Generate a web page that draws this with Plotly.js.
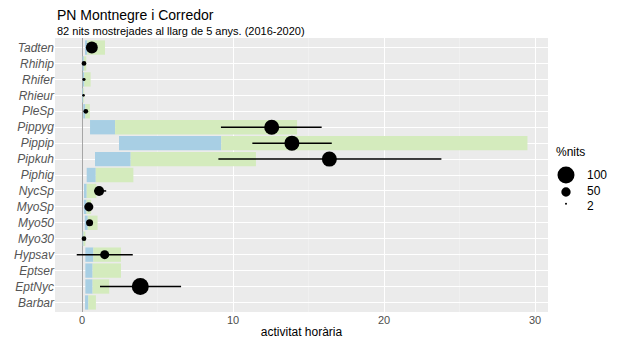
<!DOCTYPE html>
<html>
<head>
<meta charset="utf-8">
<script src="https://cdn.plot.ly/plotly-3.0.1.min.js"></script>
<style>html,body{margin:0;padding:0;background:#fff;}#chart{width:621px;height:343px;}</style>
</head>
<body>
<div id="chart"></div>
<script>
// ---- data ----
const species    = ['Tadten','Rhihip','Rhifer','Rhieur','PleSp','Pippyg','Pippip','Pipkuh','Piphig','NycSp','MyoSp','Myo50','Myo30','Hypsav','Eptser','EptNyc','Barbar'];
const blueStart  = [0.20, 0.03, 0.05, 0.02, 0.08, 0.53, 2.45, 0.86, 0.31, 0.13, 0.12, 0.18, 0.04, 0.22, 0.22, 0.22, 0.20];
const blueEnd    = [0.35, 0.12, 0.15, 0.08, 0.22, 2.19, 9.22, 3.22, 0.91, 0.31, 0.30, 0.38, 0.10, 0.75, 0.70, 0.70, 0.42];
const greenEnd   = [1.52, 0.28, 0.57, 0.14, 0.52, 14.24, 29.5, 11.52, 3.40, 0.95, 0.60, 1.03, 0.22, 2.58, 2.58, 1.80, 0.92];
const meanAct    = [0.65, 0.13, 0.13, 0.10, 0.25, 12.56, 13.9, 16.38, null, 1.13, 0.45, 0.50, 0.13, 1.50, null, 3.86, null];
const errLow     = [0.50, 0.10, 0.04, 0.08, 0.15, 9.20, 11.28, 9.03, null, 0.80, 0.32, 0.35, 0.10, -0.35, null, 1.19, null];
const errHigh    = [0.80, 0.16, 0.22, 0.12, 0.35, 15.87, 16.54, 23.80, null, 1.60, 0.60, 0.70, 0.16, 3.36, null, 6.56, null];
const pctNits    = [67, 20, 8, 6, 20, 87, 87, 87, null, 54, 48, 35, 20, 48, null, 100, null];
const legendVals = [100, 50, 2];
const titleText  = 'PN Montnegre i Corredor';
const subtitleText = '82 nits mostrejades al llarg de 5 anys. (2016-2020)';
const xTitle     = 'activitat horària';
const legendTitle = '%nits';

// ---- helpers ----
const diam = v => 2 + 15 * (v - 2) / 98;
const FONT = 'Liberation Sans, Arial, sans-serif';

const blueTrace = {
  type: 'bar', orientation: 'h', y: species,
  base: blueStart, x: blueStart.map((s, i) => blueEnd[i] - s),
  marker: {color: '#a8cfe4'}, width: 0.9, showlegend: false, hoverinfo: 'skip'
};
const greenTrace = {
  type: 'bar', orientation: 'h', y: species,
  base: blueEnd, x: blueEnd.map((s, i) => greenEnd[i] - s),
  marker: {color: '#d4ebbd'}, width: 0.9, showlegend: false, hoverinfo: 'skip'
};
const pointTrace = {
  type: 'scatter', mode: 'markers', y: species, x: meanAct,
  marker: {color: '#000', opacity: 1, size: pctNits.map(v => v == null ? 0 : diam(v)), line: {width: 0}},
  error_x: {
    type: 'data', symmetric: false,
    array: meanAct.map((m, i) => m == null ? null : errHigh[i] - m),
    arrayminus: meanAct.map((m, i) => m == null ? null : m - errLow[i]),
    color: '#000', thickness: 1.5, width: 0
  },
  showlegend: false
};

// legend drawn as paper-anchored shapes + annotations
const legX = 1.0365, legTextX = 1.075;
const legY = [0.500, 0.438, 0.395];
const legTextY = [0.500, 0.440, 0.387];
const shapes = legendVals.map((v, i) => {
  const r = diam(v) / 2;
  return {type: 'circle', xref: 'paper', yref: 'paper', xsizemode: 'pixel', ysizemode: 'pixel',
    xanchor: legX, yanchor: legY[i], x0: -r, x1: r, y0: -r, y1: r,
    fillcolor: '#000', line: {width: 0}};
});
const annotations = [
  {text: titleText, xref: 'paper', yref: 'paper', x: 0, y: 1.084, xanchor: 'left', yanchor: 'middle',
   showarrow: false, font: {family: FONT, size: 14, color: '#000'}},
  {text: subtitleText, xref: 'paper', yref: 'paper', x: 0, y: 1.026, xanchor: 'left', yanchor: 'middle',
   showarrow: false, font: {family: FONT, size: 11, color: '#000'}},
  {text: legendTitle, xref: 'paper', yref: 'paper', x: 1.012, y: 0.584, xanchor: 'left', yanchor: 'middle',
   showarrow: false, font: {family: FONT, size: 12, color: '#000'}}
].concat(legendVals.map((v, i) => ({
  text: String(v), xref: 'paper', yref: 'paper', x: legTextX, y: legTextY[i], xanchor: 'left', yanchor: 'middle',
  showarrow: false, font: {family: FONT, size: 12, color: '#000'}
})));

const layout = {
  width: 621, height: 343,
  margin: {l: 55, r: 73, t: 38, b: 31},
  paper_bgcolor: '#fff', plot_bgcolor: '#ebebeb',
  barmode: 'overlay', showlegend: false,
  font: {family: FONT},
  xaxis: {
    range: [-1.79, 30.86], tickvals: [0, 10, 20, 30], ticktext: ['0', '10', '20', '30'],
    showgrid: true, gridcolor: '#ffffff', gridwidth: 1,
    minor: {tickvals: [5, 15, 25], showgrid: true, gridcolor: '#f5f5f5', gridwidth: 0.5},
    zeroline: true, zerolinecolor: '#a6a6a6', zerolinewidth: 1,
    showline: false, ticks: '', tickfont: {family: FONT, size: 11, color: '#4d4d4d'},
    title: {text: xTitle, font: {family: FONT, size: 12, color: '#000'}, standoff: 2},
    automargin: false, fixedrange: true
  },
  yaxis: {
    type: 'category', categoryorder: 'array', categoryarray: species,
    range: [16.6, -0.6],
    showgrid: true, gridcolor: '#ffffff', gridwidth: 1,
    zeroline: false, showline: false, ticks: '',
    tickfont: {family: FONT, size: 12, color: '#555555', style: 'italic'},
    automargin: false, fixedrange: true
  },
  shapes: shapes,
  annotations: annotations
};

Plotly.newPlot('chart', [blueTrace, greenTrace, pointTrace], layout, {displayModeBar: false, staticPlot: true});
</script>
</body>
</html>
